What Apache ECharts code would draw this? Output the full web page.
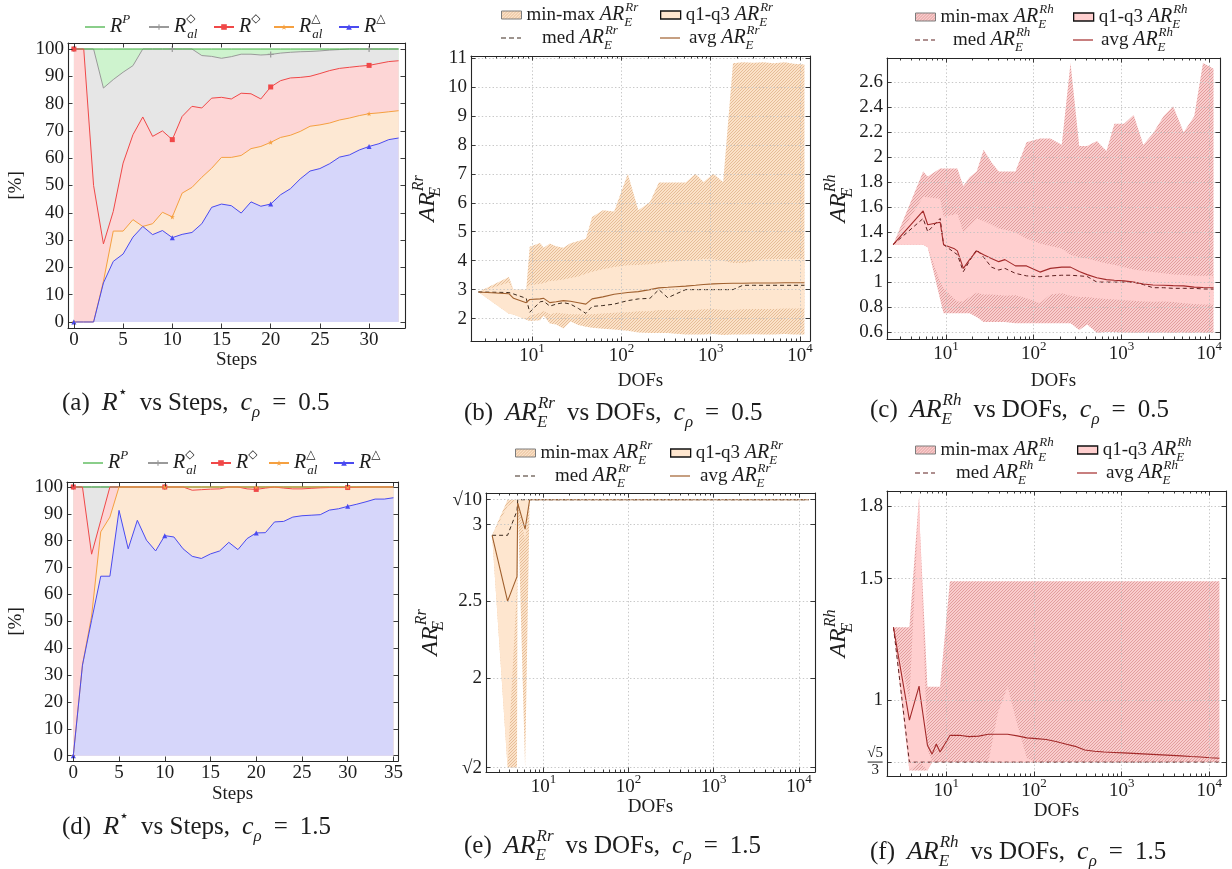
<!DOCTYPE html>
<html>
<head>
<meta charset="utf-8">
<title>Refinement statistics</title>
<script src="https://cdn.jsdelivr.net/npm/echarts@6.0.0/dist/echarts.min.js"></script>
<style>
  html, body { margin: 0; padding: 0; background: #ffffff; }
  .panel { position: absolute; left: 0; top: 0; width: 1232px; height: 869px; }
</style>
</head>
<body>
<div id="pa" class="panel"></div>
<div id="pb" class="panel"></div>
<div id="pc" class="panel"></div>
<div id="pd" class="panel"></div>
<div id="pe" class="panel"></div>
<div id="pf" class="panel"></div>
<script>
// ===================== data =====================
// (a) ratios per refinement step, c_rho = 0.5
const stepsA = [0,1,2,3,4,5,6,7,8,9,10,11,12,13,14,15,16,17,18,19,20,21,22,23,24,25,26,27,28,29,30,31,32,33];
const aRP   = [100,100,100,100,100,100,100,100,100,100,100,100,100,100,100,100,100,100,100,100,100,100,100,100,100,100,100,100,100,100,100,100,100,100];
const aRalD = [100,100,100,85.7,88.8,91.5,93.9,100,100,100,100,100,100,97.6,97.3,96.6,97.2,98.1,98.1,97.8,98.0,98.5,98.8,99.0,99.1,99.3,99.6,99.8,100,100,100,100,100,100];
const aRD   = [100,100,50,28.6,40.5,58.2,68.6,75.1,68,70,66.8,75.3,79,78.4,82,82.3,81.7,83.8,83.6,81.7,86.1,88.4,89.4,89.6,90,91,92.1,92.9,93.3,93.7,94,94.7,95.4,95.7];
const aRalT = [0,0,0,14.9,33.3,33.3,37.5,35,36,40.2,38.5,47.2,49.3,53,56.3,60.3,60.3,61,63.5,64.3,65.8,67.6,68.4,69.8,71.7,72.2,72.9,74,74.7,75.6,76.3,76.6,77,77.4];
const aRT   = [0,0,0,14.3,22.2,24.9,31.1,35,32,33.5,30.9,32.1,32.8,36,42,43.2,42.6,39.9,44,42.4,43.2,46.6,48.8,52.4,55.3,56.2,58,60.4,61.2,63,64.3,65.3,66.8,67.4];

// (d) ratios per refinement step, c_rho = 1.5
const stepsD = [0,1,2,3,4,5,6,7,8,9,10,11,12,13,14,15,16,17,18,19,20,21,22,23,24,25,26,27,28,29,30,31,32,33,34,35];
const dRP   = [100,100,100,100,100,100,100,100,100,100,100,100,100,100,100,100,100,100,100,100,100,100,100,100,100,100,100,100,100,100,100,100,100,100,100,100];
const dRalD = [100,100,100,100,100,100,100,100,100,100,100,100,100,100,100,100,100,100,100,100,100,100,100,100,100,100,100,100,100,100,100,100,100,100,100,100];
const dRD   = [100,100,75,87.5,100,100,100,100,100,100,100,100,100,98.8,99,99.2,99.3,100,100,99.3,99.1,99.6,100,99.6,99.3,99.3,99.5,99.7,99.8,99.8,99.8,99.9,100,100,100,100];
const dRalT = [0,33.7,52,83.3,88.8,100,100,100,100,100,100,100,100,100,100,100,100,100,100,100,100,100,100,100,100,100,100,100,100,100,100,100,100,100,100,100];
const dRT   = [0,33.7,50.4,66.8,66.8,91.3,77,87.6,80.2,76.2,81.9,81.4,77,74.2,73.4,75.1,76.2,79.4,76.7,80.8,82.9,83,87,87.2,88.8,89.3,89.5,89.7,91.4,91.9,92.8,93.6,94.5,95.5,95.5,96];

// DOFs of the refined meshes
const dofTop = [2.5,5.5,6.2,8.6,9.4,12.3,13.5,15.8,18.6,22.4,26.9,33,40,47,62,83,118,155,209,263,331,407,525,676,832,1072,1380,1778,2291,3020,3890,5129,6761,8511,11220];
const dofBot = [2.5,3.8,4.9,5.0,6.1,6.9,7.7,8.5,11,14.1,18.2,23.4,30.2,38.9,50.1,64.6,83.2,107,138,178,229,295,380,490,631,813,1047,1349,1738,2239,2884,3715,4786,6166,7943,10233,13032];

// (b) AR_E^Rr statistics, c_rho = 0.5
const bMin = [2.92,2.17,2.14,1.96,1.92,1.94,2.1,1.83,1.8,1.66,1.9,1.78,1.72,1.68,1.65,1.62,1.58,1.52,1.5,1.5,1.5,1.48,1.45,1.45,1.45,1.47,1.43,1.45,1.45,1.46,1.45,1.45,1.47,1.45,1.45];
const bQ1  = [2.92,2.17,2.14,1.98,2.1,2.2,2.25,2.15,2.2,2.18,2.15,2.15,2.15,2.15,2.18,2.2,2.22,2.25,2.25,2.3,2.3,2.3,2.3,2.3,2.32,2.33,2.3,2.3,2.32,2.33,2.33,2.33,2.35,2.35,2.35];
const bMed = [2.92,2.9,2.85,2.7,2.22,2.58,2.6,2.43,2.5,2.55,2.5,2.35,2.18,2.42,2.45,2.5,2.62,2.68,2.7,3.0,2.72,2.85,3.0,3.0,3.0,3.0,3.0,3.0,3.15,3.15,3.15,3.15,3.15,3.15,3.15];
const bAvg = [2.92,2.86,2.7,2.55,2.66,2.68,2.7,2.55,2.58,2.62,2.6,2.55,2.5,2.68,2.75,2.84,2.9,2.93,3.0,3.06,3.08,3.1,3.12,3.15,3.18,3.2,3.21,3.22,3.22,3.23,3.23,3.23,3.24,3.24,3.24];
const bQ3  = [2.92,3.25,3.0,3.0,3.15,3.2,3.22,3.3,3.32,3.35,3.4,3.45,3.55,3.62,3.7,3.78,3.84,3.85,3.88,3.92,3.96,3.98,4.0,4.02,4.06,4.05,4.0,3.92,3.92,3.98,4.05,4.06,4.06,4.06,4.06];
const bMax = [2.92,3.44,3.0,3.0,4.48,4.61,4.45,4.59,4.5,4.45,4.6,4.68,4.76,5.51,5.74,5.7,7.0,5.74,6.03,6.7,6.7,6.7,6.7,7.0,6.72,7.0,6.72,10.82,10.85,10.84,10.85,10.82,10.85,10.8,10.78];

// (c) AR_E^Rh statistics, c_rho = 0.5
const cMin = [1.3,1.3,1.28,0.86,0.75,0.75,0.75,0.75,0.75,0.72,0.68,0.68,0.68,0.68,0.67,0.67,0.67,0.67,0.67,0.67,0.616,0.66,0.595,0.6,0.6,0.595,0.595,0.595,0.595,0.595,0.595,0.595,0.595,0.595,0.595];
const cQ1  = [1.3,1.3,1.28,1.0,0.95,0.87,0.845,0.845,0.88,0.915,0.9,0.9,0.897,0.89,0.895,0.87,0.83,0.9,0.91,0.89,0.88,0.88,0.87,0.865,0.86,0.855,0.85,0.845,0.843,0.845,0.84,0.83,0.825,0.82,0.82];
const cMed = [1.3,1.51,1.404,1.51,1.3,1.24,1.22,1.084,1.17,1.26,1.2,1.12,1.097,1.11,1.07,1.05,1.043,1.05,1.055,1.055,1.05,1.045,1.0,1.0,1.0,1.0,1.0,0.98,0.955,0.955,0.95,0.95,0.95,0.945,0.944];
const cAvg = [1.3,1.57,1.46,1.48,1.3,1.27,1.25,1.11,1.18,1.25,1.22,1.19,1.164,1.18,1.13,1.13,1.08,1.11,1.12,1.12,1.085,1.06,1.035,1.02,1.015,1.01,1.0,0.985,0.977,0.975,0.972,0.97,0.96,0.957,0.955];
const cQ3  = [1.3,1.685,1.68,1.667,1.525,1.54,1.55,1.4,1.45,1.51,1.49,1.46,1.43,1.42,1.4,1.35,1.31,1.29,1.27,1.22,1.2,1.19,1.17,1.15,1.14,1.12,1.1,1.09,1.08,1.07,1.06,1.057,1.05,1.05,1.05];
const cMax = [1.3,1.886,1.846,1.91,1.91,1.91,1.91,1.77,1.84,1.886,2.06,1.96,1.886,1.886,1.886,2.12,2.15,2.15,2.1,2.755,2.09,2.09,2.13,2.05,2.27,2.27,2.34,2.1,2.19,2.33,2.41,2.2,2.33,2.755,2.71];

// (e) AR_E^Rr statistics, c_rho = 1.5
const eMin = [2.93,1.414,1.414,3.162,1.414,3.162,3.162,3.162,3.162,3.162,3.162,3.162,3.162,3.162,3.162,3.162,3.162,3.162,3.162,3.162,3.162,3.162,3.162,3.162,3.162,3.162,3.162,3.162,3.162,3.162,3.162,3.162,3.162,3.162,3.162,3.162,3.162];
const eQ1  = [2.93,1.414,2.6,3.162,2.9,3.162,3.162,3.162,3.162,3.162,3.162,3.162,3.162,3.162,3.162,3.162,3.162,3.162,3.162,3.162,3.162,3.162,3.162,3.162,3.162,3.162,3.162,3.162,3.162,3.162,3.162,3.162,3.162,3.162,3.162,3.162,3.162];
const eMed = [2.93,2.93,3.09,3.162,3.162,3.162,3.162,3.162,3.162,3.162,3.162,3.162,3.162,3.162,3.162,3.162,3.162,3.162,3.162,3.162,3.162,3.162,3.162,3.162,3.162,3.162,3.162,3.162,3.162,3.162,3.162,3.162,3.162,3.162,3.162,3.162,3.162];
const eAvg = [2.93,2.5,2.66,3.14,2.97,3.162,3.162,3.162,3.162,3.162,3.162,3.162,3.162,3.162,3.162,3.162,3.162,3.162,3.162,3.162,3.162,3.162,3.162,3.162,3.162,3.162,3.162,3.162,3.162,3.162,3.162,3.162,3.162,3.162,3.162,3.162,3.162];
const eQ3  = [2.93,3.12,3.162,3.162,3.162,3.162,3.162,3.162,3.162,3.162,3.162,3.162,3.162,3.162,3.162,3.162,3.162,3.162,3.162,3.162,3.162,3.162,3.162,3.162,3.162,3.162,3.162,3.162,3.162,3.162,3.162,3.162,3.162,3.162,3.162,3.162,3.162];
const eMax = [2.93,3.162,3.162,3.162,3.162,3.162,3.162,3.162,3.162,3.162,3.162,3.162,3.162,3.162,3.162,3.162,3.162,3.162,3.162,3.162,3.162,3.162,3.162,3.162,3.162,3.162,3.162,3.162,3.162,3.162,3.162,3.162,3.162,3.162,3.162,3.162,3.162];

// (f) AR_E^Rh statistics, c_rho = 1.5
const fMin = [1.3,0.711,0.711,0.711,0.711,0.745,0.745,0.745,0.745,0.745,0.745,0.745,0.745,0.745,0.745,0.745,0.745,0.745,0.745,0.745,0.745,0.745,0.745,0.745,0.745,0.745,0.745,0.745,0.745,0.745,0.745,0.745,0.745,0.745,0.745,0.745,0.745];
const fQ1  = [1.3,0.711,0.745,0.745,0.711,0.745,0.745,0.745,0.745,0.745,0.745,0.745,0.745,0.745,0.745,0.745,0.745,0.745,0.745,0.745,0.745,0.745,0.745,0.745,0.745,0.745,0.745,0.745,0.745,0.745,0.745,0.745,0.745,0.745,0.745,0.745,0.745];
const fMed = [1.3,0.745,0.745,0.745,0.745,0.745,0.745,0.745,0.745,0.745,0.745,0.745,0.745,0.745,0.745,0.745,0.745,0.745,0.745,0.745,0.745,0.745,0.745,0.745,0.745,0.745,0.745,0.745,0.745,0.745,0.745,0.745,0.745,0.745,0.745,0.745,0.745];
const fAvg = [1.3,0.918,1.058,1.03,0.815,0.778,0.82,0.787,0.855,0.856,0.85,0.852,0.86,0.86,0.86,0.853,0.845,0.842,0.838,0.83,0.82,0.81,0.795,0.79,0.787,0.785,0.783,0.781,0.779,0.777,0.775,0.773,0.771,0.768,0.766,0.763,0.761];
const fQ3  = [1.3,1.0,1.84,1.71,0.8,0.745,0.745,0.745,0.745,0.745,0.745,0.745,0.745,0.95,1.055,0.9,0.76,0.745,0.745,0.745,0.745,0.745,0.745,0.745,0.745,0.745,0.745,0.745,0.745,0.745,0.745,0.745,0.745,0.745,0.745,0.745,0.745];
const fMax = [1.3,1.3,1.84,1.71,1.055,1.055,1.055,1.055,1.49,1.49,1.49,1.49,1.49,1.49,1.49,1.49,1.49,1.49,1.49,1.49,1.49,1.49,1.49,1.49,1.49,1.49,1.49,1.49,1.49,1.49,1.49,1.49,1.49,1.49,1.49,1.49,1.49];

// tick values and their labels
const pctTicks = [0,10,20,30,40,50,60,70,80,90,100];
const stepTicksA = [0,5,10,15,20,25,30];
const stepTicksD = [0,5,10,15,20,25,30,35];
const bTicks = [2,3,4,5,6,7,8,9,10,11];
const bTickText = ['2','3','4','5','6','7','8','9','10','11'];
const cTicks = [0.6,0.8,1,1.2,1.4,1.6,1.8,2,2.2,2.4,2.6];
const cTickText = ['0.6','0.8','1','1.2','1.4','1.6','1.8','2','2.2','2.4','2.6'];
const eTicks = [1.4142,2,2.5,3,3.1623];
const eTickText = ['√2','2','2.5','3','√10'];
const fTicks = [0.7454,1,1.5,1.8];
const fTickText = ['{fn|√5}\n{fb| }\n{fd|3}','1','1.5','1.8'];

// ===================== styling helpers =====================
const FONT = "'Liberation Serif','DejaVu Serif',serif";
const SYMF = "'DejaVu Sans',sans-serif";
const INK = '#1d1d1d';
const FS = 19;   // tick labels
const FT = 19;   // legends, x-axis names
const FY = 23;   // y-axis math names
const FC = 25;   // captions

function rich(fs, gap) {
  const lh = Math.round(fs * 1.45), s = Math.round(fs * 0.68), sl = s + 2;
  const b = {fontFamily: FONT, color: INK, fontWeight: 'normal'};
  const sup = Object.assign({}, b, {fontSize: s, lineHeight: sl, verticalAlign: 'top'});
  const sub = Object.assign({}, b, {fontSize: s, lineHeight: sl, verticalAlign: 'bottom'});
  return {
    r:   Object.assign({}, b, {fontSize: fs, lineHeight: lh}),
    i:   Object.assign({}, b, {fontSize: fs + 1, lineHeight: lh, fontStyle: 'italic'}),
    w:   Object.assign({}, b, {fontSize: fs, lineHeight: lh, width: gap || 6}),
    sp:  Object.assign({}, sup, {fontStyle: 'italic'}),
    sn:  Object.assign({}, sup),
    sb:  Object.assign({}, sub, {fontStyle: 'italic'}),
    sbz: Object.assign({}, sub, {fontStyle: 'italic', width: 1}),
    sy:  Object.assign({}, sup, {fontFamily: SYMF, fontSize: Math.round(s * 0.95)}),
    syz: Object.assign({}, sup, {fontFamily: SYMF, fontSize: Math.round(s * 0.95), width: 1}),
    fn:  Object.assign({}, b, {fontSize: fs - 4, lineHeight: fs - 5, align: 'center'}),
    fb:  {width: 15, height: 1, lineHeight: 3, backgroundColor: INK, align: 'center'},
    fd:  Object.assign({}, b, {fontSize: fs - 4, lineHeight: fs - 5, align: 'center'})
  };
}
const RT = rich(FT), RS = rich(FS), RY = rich(FY), RC = rich(FC, 12);

const frameLine = () => ({show: true, onZero: false, lineStyle: {color: '#262626', width: 1.1}});
const tick = (len, vals) => {
  const t = {show: true, inside: true, length: len, lineStyle: {color: '#262626', width: 0.9}};
  if (vals) t.customValues = vals;
  return t;
};
const gridSplit = () => ({show: true, lineStyle: {color: '#c2c2c2', width: 0.9, type: [1.4, 2.2]}});
const labelFrom = (ticks, texts) => v => {
  const k = ticks.findIndex(t => Math.abs(t - v) < 1e-6);
  if (k < 0) return '';
  return texts[k].indexOf('{') === 0 ? texts[k] : '{r|' + texts[k] + '}';
};

const SOLID = 'path://M0,0H20V1H0Z';
const DASH = 'path://M0,0H5V1H0Z M8,0H13V1H8Z M16,0H20V1H16Z';
const PLUS = 'path://M-1,-5H1V-1H5V1H1V5H-1V1H-5V-1H-1Z';
const STAR = 'path://M0,-5L1.18,-1.62L4.76,-1.55L1.9,0.62L2.94,4.05L0,2L-2.94,4.05L-1.9,0.62L-4.76,-1.55L-1.18,-1.62Z';

// diagonal "north east lines" fill
function hatch(bg, line) {
  const n = 3;
  const c = document.createElement('canvas');
  c.width = n; c.height = n;
  const g = c.getContext('2d');
  g.fillStyle = bg; g.fillRect(0, 0, n, n);
  g.strokeStyle = line; g.lineWidth = 0.7;
  g.beginPath();
  g.moveTo(0, n); g.lineTo(n, 0);
  g.moveTo(-1, 1); g.lineTo(1, -1);
  g.moveTo(n - 1, n + 1); g.lineTo(n + 1, n - 1);
  g.stroke();
  return {image: c, repeat: 'repeat'};
}

function caption(text, left, top) {
  return {text, left, top, padding: 0, textStyle: {rich: RC, fontWeight: 'normal'}};
}

// ===================== step-ratio panels =====================
function stepsChart(id, P) {
  const chart = echarts.init(document.getElementById(id), null, {renderer: 'canvas'});
  const xAx = (pos, main) => ({
    type: 'value', min: P.x[0], max: P.x[1], position: pos, z: 10,
    axisLine: frameLine(), axisTick: tick(4.5, P.xt), splitLine: {show: false},
    axisLabel: main ? {customValues: P.xt, margin: 3, fontFamily: FONT, fontSize: FS, color: INK} : {show: false},
    name: main ? '{r|Steps}' : '', nameLocation: 'middle', nameGap: P.xGap, nameTextStyle: {rich: RT}
  });
  const yAx = (pos, main) => ({
    type: 'value', min: P.y[0], max: P.y[1], position: pos, z: 10,
    axisLine: frameLine(), axisTick: tick(4.5, pctTicks), splitLine: {show: false},
    axisLabel: main ? {customValues: pctTicks, margin: 4, fontFamily: FONT, fontSize: FS, color: INK} : {show: false},
    name: main ? '{r|[%]}' : '', nameLocation: 'middle', nameGap: P.yGap, nameTextStyle: {rich: RT}
  });
  const pair = ys => P.steps.map((s, i) => [s, ys[i]]);
  // filled regions, back to front
  const fills = P.rows.map(r => ({
    type: 'line', name: r.key + '-fill', data: pair(r.ys), symbol: 'none', silent: true, z: 2,
    lineStyle: {width: 0, opacity: 0}, areaStyle: {color: r.fill, opacity: 1}, emphasis: {disabled: true}
  }));
  // outlines with markers every 10 steps
  const lineOrder = [1, 0, 2, 3, 4];
  const lines = lineOrder.map(k => {
    const r = P.rows[k];
    return {
      type: 'line', name: r.key, data: pair(r.ys), z: 3, silent: true,
      symbol: r.symbol || 'none', showSymbol: !!r.symbol, showAllSymbol: true,
      symbolSize: (v, p) => (p.dataIndex % 10 === 0 ? r.size : 0),
      lineStyle: {color: r.line, width: 1}, itemStyle: {color: r.line}, emphasis: {disabled: true}
    };
  });
  const legends = P.rows.map((r, k) => {
    const L = {
      data: [r.key], left: P.legX[k], top: P.legY, padding: 0, itemWidth: 20, itemHeight: 7,
      selectedMode: false, formatter: r.label, textStyle: {rich: RT}, symbolKeepAspect: false
    };
    if (!r.symbol) { L.icon = SOLID; L.itemHeight = 1.2; L.itemStyle = {color: r.line, borderWidth: 0}; }
    return L;
  });
  chart.setOption({
    animation: false,
    textStyle: {fontFamily: FONT},
    grid: {left: P.g[0], top: P.g[1], width: P.g[2], height: P.g[3], containLabel: false},
    xAxis: [xAx('bottom', true), xAx('top', false)],
    yAxis: [yAx('left', true), yAx('right', false)],
    legend: legends,
    title: [caption(P.caption, P.cap[0], P.cap[1])],
    series: fills.concat(lines)
  });
}

function stepRows(rp, ralD, rD, ralT, rT) {
  return [
    {key: 'RP',   ys: rp,   line: '#3cae3c', fill: '#cef3ce', label: '{i|R}{sp|P}'},
    {key: 'RalD', ys: ralD, line: '#9a9a9a', fill: '#e6e6e6', symbol: PLUS, size: 6, label: '{i|R}{syz|◇}{sb|al}'},
    {key: 'RD',   ys: rD,   line: '#f04848', fill: '#fdd6d6', symbol: 'rect', size: 5, label: '{i|R}{sy|◇}'},
    {key: 'RalT', ys: ralT, line: '#f5a040', fill: '#fde8d3', symbol: STAR, size: 5, label: '{i|R}{syz|△}{sb|al}'},
    {key: 'RT',   ys: rT,   line: '#4a4af0', fill: '#d6d6fa', symbol: 'triangle', size: 5, label: '{i|R}{sy|△}'}
  ];
}

const capSteps = c => '{r|(' + c[0] + ')}{w| }{i|R}{sy|⋆}{w| }{r|vs Steps,}{w| }{i|c}{sb|ρ}{w| }{r|=}{w| }{r|' + c[1] + '}';
const capDofs = c => '{r|(' + c[0] + ')}{w| }{i|AR}{sbz|E}{sp|' + c[2] + '}{w| }{r|vs DOFs,}{w| }{i|c}{sb|ρ}{w| }{r|=}{w| }{r|' + c[1] + '}';

stepsChart('pa', {
  g: [68, 43, 337, 285], x: [-0.6, 33.65], y: [-2.2, 102.2], xt: stepTicksA, steps: stepsA,
  xGap: 17, yGap: 38, legX: [85, 148, 213, 273, 338], legY: 13,
  rows: stepRows(aRP, aRalD, aRD, aRalT, aRT),
  caption: capSteps(['a', '0.5']), cap: [62, 385]
});
stepsChart('pd', {
  g: [67, 482, 331, 279], x: [-0.69, 35.5], y: [-1.97, 101.86], xt: stepTicksD, steps: stepsD,
  xGap: 19, yGap: 37, legX: [83, 147, 210, 268, 333], legY: 449,
  rows: stepRows(dRP, dRalD, dRD, dRalT, dRT),
  caption: capSteps(['d', '1.5']), cap: [62, 809]
});

// ===================== DOF statistics panels =====================
function band(name, xs, lo, hi, fill, z) {
  return {
    type: 'custom', name, z, silent: true,
    data: xs.map((x, i) => [x, lo[i], hi[i]]),
    encode: {x: 0, y: [1, 2]},
    renderItem: (params, api) => {
      if (params.dataIndex !== 0) return null;
      const top = xs.map((x, i) => api.coord([x, hi[i]]));
      const bot = xs.map((x, i) => api.coord([x, lo[i]])).reverse();
      return {type: 'polygon', shape: {points: top.concat(bot)}, style: {fill: fill, stroke: null}};
    }
  };
}

function dofChart(id, P) {
  const chart = echarts.init(document.getElementById(id), null, {renderer: 'canvas'});
  const lx = [Math.log10(P.x[0]), Math.log10(P.x[1])];
  const minor = [];
  for (let d = 0; d <= 4; d++) {
    for (let k = 2; k <= 9; k++) {
      const v = d + Math.log10(k);
      if (v > lx[0] && v < lx[1]) minor.push(v);
    }
  }
  const logAx = (pos, main) => ({
    type: 'log', logBase: 10, min: P.x[0], max: P.x[1], position: pos, z: 10,
    axisLine: frameLine(), axisTick: tick(4.5), splitLine: main ? gridSplit() : {show: false},
    axisLabel: main ? {margin: 1, rich: RS, formatter: v => {
      const e = Math.log10(v);
      return Math.abs(e - Math.round(e)) < 1e-6 ? '{r|10}{sn|' + Math.round(e) + '}' : '';
    }} : {show: false},
    name: main ? '{r|DOFs}' : '', nameLocation: 'middle', nameGap: P.xGap, nameTextStyle: {rich: RT}
  });
  const minorAx = pos => ({
    type: 'value', min: lx[0], max: lx[1], position: pos, z: 10,
    axisLine: {show: false, onZero: false}, axisTick: tick(2.5, minor),
    axisLabel: {show: false}, splitLine: {show: false}
  });
  const yAx = (pos, main) => ({
    type: 'value', min: P.y[0], max: P.y[1], position: pos, z: 10,
    axisLine: frameLine(), axisTick: tick(4.5, P.yt), splitLine: main ? gridSplit() : {show: false},
    axisLabel: main ? {customValues: P.yt, margin: 4, rich: RS, formatter: labelFrom(P.yt, P.ytText)} : {show: false},
    name: main ? '{i|AR}{sbz|E}{sp|' + P.sup + '}' : '', nameLocation: 'middle', nameGap: P.yGap, nameTextStyle: {rich: RY}
  });
  const pat = hatch(P.hatchBg, P.hatchLine);
  const tag = '{i|AR}{sbz|E}{sp|' + P.sup + '}';
  const Lx = P.legX, Ly = P.legY;
  const legends = [
    {data: ['minmax'], left: Lx[0], top: Ly[0], icon: 'rect', itemStyle: {color: pat, borderColor: '#7c7c7c', borderWidth: 1},
     formatter: '{r|min-max }' + tag},
    {data: ['q13'], left: Lx[1], top: Ly[0], icon: 'rect', itemStyle: {color: P.light, borderColor: '#111111', borderWidth: 1.3},
     formatter: '{r|q1-q3 }' + tag},
    {data: ['med'], left: Lx[0], top: Ly[1], icon: DASH, itemHeight: 1.2, itemStyle: {color: P.medC, borderWidth: 0},
     formatter: '{r|med }' + tag, textStyle: {rich: RT, padding: [0, 0, 0, P.pad[0]]}},
    {data: ['avg'], left: Lx[1], top: Ly[1], icon: SOLID, itemHeight: 1.2, itemStyle: {color: P.avgC, borderWidth: 0},
     formatter: '{r|avg }' + tag, textStyle: {rich: RT, padding: [0, 0, 0, P.pad[1]]}}
  ].map(L => Object.assign({padding: 0, itemWidth: 20, itemHeight: 8, selectedMode: false,
                            symbolKeepAspect: false, textStyle: {rich: RT}}, L));
  const pair = ys => P.xs.map((x, i) => [x, ys[i]]);
  chart.setOption({
    animation: false,
    textStyle: {fontFamily: FONT},
    grid: {left: P.g[0], top: P.g[1], width: P.g[2], height: P.g[3], containLabel: false},
    xAxis: [logAx('bottom', true), minorAx('bottom'), logAx('top', false), minorAx('top')],
    yAxis: [yAx('left', true), yAx('right', false)],
    legend: legends,
    title: [caption(P.caption, P.cap[0], P.cap[1])],
    series: [
      band('minmax', P.xs, P.mn, P.mx, pat, 1),
      band('q13', P.xs, P.q1, P.q3, P.light, 2),
      {type: 'line', name: 'med', data: pair(P.med), symbol: 'none', z: 3, silent: true,
       lineStyle: {color: P.medC, width: 1, type: [4, 3]}, itemStyle: {color: P.medC}, emphasis: {disabled: true}},
      {type: 'line', name: 'avg', data: pair(P.avg), symbol: 'none', z: 4, silent: true,
       lineStyle: {color: P.avgC, width: 1.1}, itemStyle: {color: P.avgC}, emphasis: {disabled: true}}
    ]
  });
}

const tan = {hatchBg: '#fbe2c8', hatchLine: '#dcac82', light: '#fee6cf', medC: '#3d2b1e', avgC: '#a0602e'};
const rose = {hatchBg: '#f9cdcd', hatchLine: '#d88888', light: '#ffcfcf', medC: '#5e2020', avgC: '#a32a2a'};

dofChart('pb', Object.assign({}, tan, {
  g: [471, 56, 339, 285], x: [2.07, 12950], y: [1.226, 11.07], yt: bTicks, ytText: bTickText,
  xGap: 26, yGap: 24, sup: 'Rr', xs: dofTop,
  mn: bMin, q1: bQ1, med: bMed, avg: bAvg, q3: bQ3, mx: bMax,
  legX: [501, 660], legY: [1, 24], pad: [16, 4],
  caption: capDofs(['b', '0.5', 'Rr']), cap: [464, 395]
}));
dofChart('pc', Object.assign({}, rose, {
  g: [887, 58, 333, 281], x: [2.13, 13300], y: [0.544, 2.796], yt: cTicks, ytText: cTickText,
  xGap: 28, yGap: 30, sup: 'Rh', xs: dofTop,
  mn: cMin, q1: cQ1, med: cMed, avg: cAvg, q3: cQ3, mx: cMax,
  legX: [915, 1073], legY: [3, 26], pad: [13, 3],
  caption: capDofs(['c', '0.5', 'Rh']), cap: [870, 392]
}));
dofChart('pe', Object.assign({}, tan, {
  g: [486, 493, 329, 279], x: [2.12, 15460], y: [1.385, 3.206], yt: eTicks, ytText: eTickText,
  xGap: 17, yGap: 39, sup: 'Rr', xs: dofBot,
  mn: eMin, q1: eQ1, med: eMed, avg: eAvg, q3: eQ3, mx: eMax,
  legX: [515, 670], legY: [439, 462], pad: [15, 5],
  caption: capDofs(['e', '1.5', 'Rr']), cap: [464, 828]
}));
dofChart('pf', Object.assign({}, rose, {
  g: [887, 491, 339, 285], x: [2.11, 15490], y: [0.688, 1.861], yt: fTicks, ytText: fTickText,
  xGap: 19, yGap: 28, sup: 'Rh', xs: dofBot,
  mn: fMin, q1: fQ1, med: fMed, avg: fAvg, q3: fQ3, mx: fMax,
  legX: [915, 1077], legY: [436, 459], pad: [16, 4],
  caption: capDofs(['f', '1.5', 'Rh']), cap: [870, 834]
}));
</script>
</body>
</html>
